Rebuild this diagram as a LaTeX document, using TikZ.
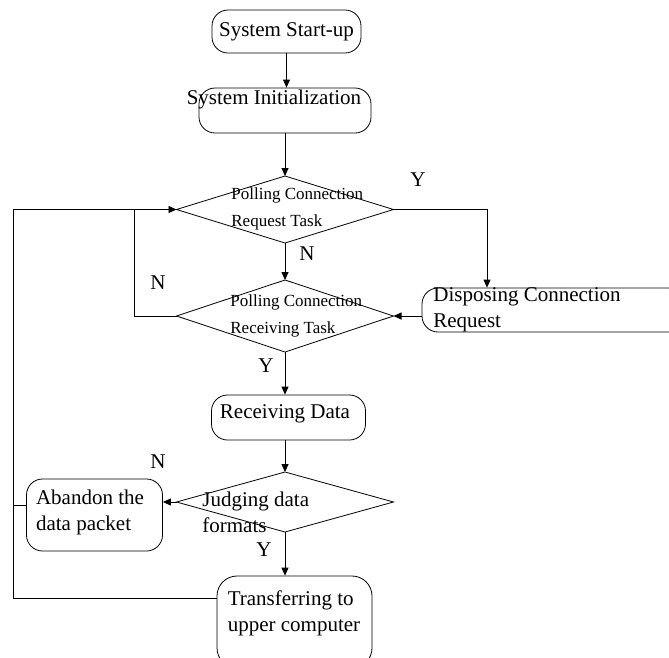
\documentclass[tikz,border=0pt]{standalone}
\usepackage{fontspec}
\setmainfont{Liberation Serif}
\usetikzlibrary{shapes.geometric,arrows.meta}
\tikzset{
  box/.style={draw, rounded corners=16pt, inner sep=0pt},
  decision/.style={draw, diamond, inner sep=0pt, outer sep=0pt},
  bigtxt/.style={font=\fontsize{21}{26}\selectfont, inner sep=0pt},
  smalltxt/.style={font=\fontsize{17}{27}\selectfont, inner sep=0pt, align=left},
  flow/.style={-{Triangle[length=8pt,width=7pt]}},
}
\begin{document}
\begin{tikzpicture}[x=1pt,y=-1pt,line width=0.8pt]
            \clip (0,0) rectangle (669,657);
            \node[box, minimum width=149pt, minimum height=43pt] (start) at (286.5,31.5) {};
            \node[bigtxt] (starttxt) at (start.center) {System Start-up};
            \node[box, minimum width=172pt, minimum height=45pt] (init) at (285,110.5) {};
            \node[bigtxt] (inittxt) at (274,99) {System Initialization};
            \node[decision, minimum width=217pt, minimum height=67pt] (poll1) at (285,209.5) {};
            \node[smalltxt, anchor=west] (poll1txt) at (231,209) {Polling Connection\\Request Task};
            \node[decision, minimum width=217pt, minimum height=72pt] (poll2) at (285,316) {};
            \node[smalltxt, anchor=west] (poll2txt) at (230,316) {Polling Connection\\Receiving Task};
            \node[box, minimum width=262pt, minimum height=44pt] (dispose) at (553,310) {};
            \node[bigtxt, align=left, anchor=west] (disposetxt) at (433,310) {Disposing Connection\\Request};
            \node[box, minimum width=154pt, minimum height=45pt] (recv) at (288.5,417.5) {};
            \node[bigtxt] (recvtxt) at (285,414) {Receiving Data};
            \node[decision, minimum width=217pt, minimum height=60pt] (judge) at (285,502) {};
            \node[bigtxt, align=left, anchor=west] (judgetxt) at (202,512) {Judging data\\formats};
            \node[box, minimum width=136pt, minimum height=72pt] (abandon) at (94.5,515) {};
            \node[bigtxt, align=left] (abandontxt) at (90,512) {Abandon the\\data packet};
            \node[box, rounded corners=20pt, minimum width=155pt, minimum height=92pt] (transfer) at (294.5,622) {};
            \node[bigtxt, align=left] (transfertxt) at (294,613) {Transferring to\\upper computer};
            \coordinate (loopbot) at (13,598);
            \coordinate (looptop) at (13,209.5);
            \coordinate (nloop) at (134,209.5);
            \coordinate (ycorner) at (487,209.5);
            \draw[flow] (start.south) -- (start.south |- init.north);
            \draw[flow] (init.south) -- (poll1.north);
            \draw[flow] (poll1.south) -- (poll2.north);
            \draw[flow] (poll2.south) -- (poll2.south |- recv.north);
            \draw[flow] (recv.south -| judge.north) -- (judge.north);
            \draw[flow] (judge.south) -- (judge.south |- transfer.north);
            \draw[flow] (poll1.east) -- (ycorner) -- (ycorner |- dispose.north);
            \draw[flow] (dispose.west |- poll2.east) -- (poll2.east);
            \draw[flow] (poll2.west) -- (poll2.west -| nloop) -- (nloop) -- (poll1.west);
            \draw (transfer.west |- loopbot) -- (loopbot) -- (looptop) -- (nloop);
            \draw (abandon.west |- 0,505) -- (loopbot |- 0,505);
            \draw[flow] (judge.west) -- (judge.west -| abandon.east);
            \node[bigtxt] (y1) at (418,180) {Y};
            \node[bigtxt] (n1) at (307,254) {N};
            \node[bigtxt] (n2) at (158,283) {N};
            \node[bigtxt] (y2) at (266,366) {Y};
            \node[bigtxt] (n3) at (158,462) {N};
            \node[bigtxt] (y3) at (264,550) {Y};
        \end{tikzpicture}
\end{document}
